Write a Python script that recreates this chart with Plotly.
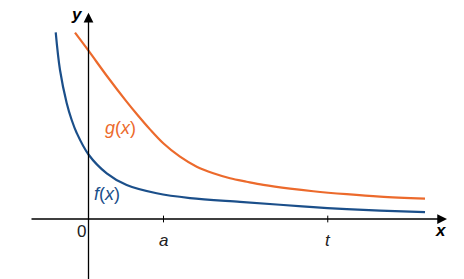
import plotly.graph_objects as go

# Curve data, arbitrary units where a = 1
f_x = [-0.437, -0.38, -0.291, -0.224, -0.157, 0.0, 0.243, 0.509, 0.909, 1.353, 2.02, 2.553, 2.997, 3.443, 3.887, 4.487]
f_y = [2.489, 1.987, 1.547, 1.32, 1.147, 0.86, 0.609, 0.453, 0.343, 0.279, 0.228, 0.19, 0.158, 0.131, 0.112, 0.093]

g_x = [-0.18, 0.0, 0.243, 0.5, 0.643, 0.82, 0.997, 1.22, 1.443, 1.664, 1.887, 2.109, 2.331, 2.687, 2.997, 3.443, 3.887, 4.487]
g_y = [2.484, 2.244, 1.91, 1.575, 1.40, 1.195, 1.01, 0.831, 0.697, 0.609, 0.543, 0.497, 0.455, 0.405, 0.37, 0.331, 0.299, 0.271]

tick_values = [1.0, 3.19]
tick_labels = ["a", "t"]

BLUE = "#1b4f8a"
ORANGE = "#ec6a2c"
FONT = "Liberation Sans, Arial, sans-serif"

fig = go.Figure()
fig.add_trace(go.Scatter(x=f_x, y=f_y, mode="lines", line=dict(color=BLUE, width=2.2, shape="spline", smoothing=1.0), hoverinfo="skip"))
fig.add_trace(go.Scatter(x=g_x, y=g_y, mode="lines", line=dict(color=ORANGE, width=2.2, shape="spline", smoothing=1.0), hoverinfo="skip"))

shapes = []
for tv in tick_values:
    shapes.append(dict(type="line", x0=tv, x1=tv, y0=-0.045, y1=0.045, line=dict(color="black", width=1)))

annotations = []
# axes with arrows
annotations.append(dict(x=4.78, y=0, ax=-0.78, ay=0, xref="x", yref="y", axref="x", ayref="y",
                        text="", showarrow=True, arrowhead=2, arrowsize=1.5, arrowwidth=1.3, arrowcolor="black", standoff=0))
annotations.append(dict(x=0, y=2.75, ax=0, ay=-0.85, xref="x", yref="y", axref="x", ayref="y",
                        text="", showarrow=True, arrowhead=2, arrowsize=1.5, arrowwidth=1.3, arrowcolor="black", standoff=0))

# tick labels
for tv, tl in zip(tick_values, tick_labels):
    annotations.append(dict(x=tv, y=-0.29, xref="x", yref="y", text="<i>%s</i>" % tl, showarrow=False,
                            font=dict(family=FONT, size=17, color="#222")))
annotations.append(dict(x=-0.1, y=-0.16, xref="x", yref="y", text="0", showarrow=False,
                        font=dict(family=FONT, size=17, color="#222")))
annotations.append(dict(x=4.7, y=-0.15, xref="x", yref="y", text="<b><i>x</i></b>", showarrow=False,
                        font=dict(family=FONT, size=17, color="black")))
annotations.append(dict(x=-0.15, y=2.73, xref="x", yref="y", text="<b><i>y</i></b>", showarrow=False,
                        font=dict(family=FONT, size=17, color="black")))
annotations.append(dict(x=0.42, y=1.21, xref="x", yref="y", text="<i>g</i>(<i>x</i>)", showarrow=False,
                        font=dict(family=FONT, size=18, color=ORANGE)))
annotations.append(dict(x=0.24, y=0.33, xref="x", yref="y", text="<i>f</i>(<i>x</i>)", showarrow=False,
                        font=dict(family=FONT, size=18, color=BLUE)))

fig.update_layout(
    width=464, height=279,
    margin=dict(l=0, r=0, t=0, b=0),
    paper_bgcolor="white", plot_bgcolor="white",
    showlegend=False,
    xaxis=dict(range=[-1.18, 5.0067], visible=False, fixedrange=True),
    yaxis=dict(range=[-0.8, 2.92], visible=False, fixedrange=True),
    shapes=shapes,
    annotations=annotations,
)

fig.write_html("out.html", config={"displayModeBar": False})
